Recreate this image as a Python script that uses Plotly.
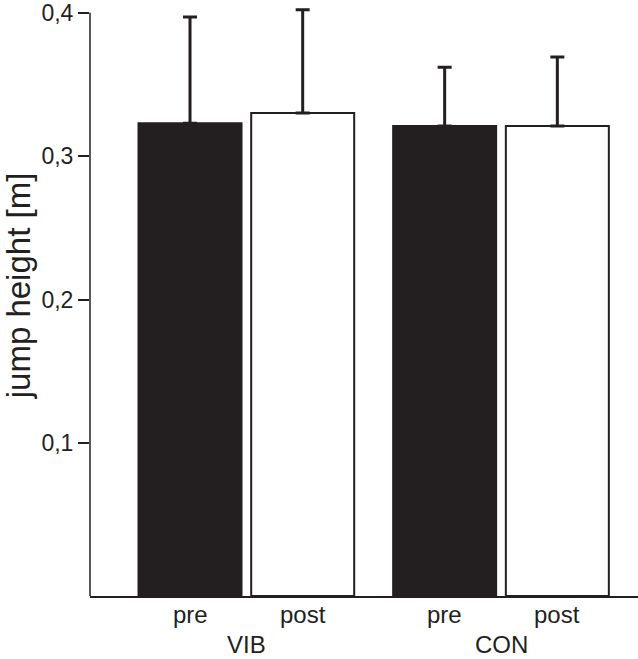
import plotly.graph_objects as go

# ---- data ----
groups = ["VIB", "CON"]
phases = ["pre", "post"]
pre_mean = [0.323, 0.321]
pre_sd = [0.074, 0.041]
post_mean = [0.330, 0.321]
post_sd = [0.072, 0.048]
y_ticks = [0.1, 0.2, 0.3, 0.4]
y_title = "jump height [m]"

# ---- style ----
INK = "#231f20"
FONT = "Liberation Sans, Arial, sans-serif"
Y_MIN, Y_MAX = -0.0065, 0.4088
BARGAP, GROUPGAP = 0.115, 0.086

means = [pre_mean, post_mean]
sds = [pre_sd, post_sd]
fills = [INK, "white"]

fig = go.Figure()
for k, ph in enumerate(phases):
    fig.add_trace(go.Bar(
        name=ph,
        x=groups,
        y=[m - Y_MIN for m in means[k]],
        base=Y_MIN,
        cliponaxis=False,
        marker=dict(color=fills[k], line=dict(color=INK, width=2)),
        error_y=dict(type="data", symmetric=False, array=sds[k],
                     arrayminus=[0] * len(groups),
                     color=INK, thickness=3, width=7),
        showlegend=False,
    ))

annotations = []
off = (1 - BARGAP) / 4
for i, g in enumerate(groups):
    for k, ph in enumerate(phases):
        annotations.append(dict(
            x=i + (k - 0.5) * 2 * off, y=0, xref="x", yref="paper",
            text=ph, showarrow=False, yanchor="top", yshift=-3,
            font=dict(size=24, color=INK, family=FONT)))
    annotations.append(dict(
        x=i, y=0, xref="x", yref="paper", text=g, showarrow=False,
        yanchor="top", yshift=-33,
        font=dict(size=24, color=INK, family=FONT)))

annotations.append(dict(
    x=-0.131, y=0.52, xref="paper", yref="paper", text=y_title,
    textangle=-90, showarrow=False, xanchor="center", yanchor="middle",
    font=dict(size=33, color=INK, family=FONT)))

# y-axis spine ending at the top tick
shapes = [dict(type="line", xref="paper", yref="y", x0=0, x1=0,
               y0=Y_MIN, y1=max(y_ticks),
               line=dict(color=INK, width=1.5))]

fig.update_layout(
    width=638, height=659,
    margin=dict(l=90, r=0, t=0, b=63),
    paper_bgcolor="white", plot_bgcolor="white",
    barmode="group", bargap=BARGAP, bargroupgap=GROUPGAP,
    separators=",.",
    font=dict(family=FONT, color=INK, size=24),
    annotations=annotations,
    shapes=shapes,
    xaxis=dict(type="category", range=[-0.614, 1.538],
               showticklabels=False, ticks="", showgrid=False,
               zeroline=False, showline=True, linecolor=INK, linewidth=1.5),
    yaxis=dict(range=[Y_MIN, Y_MAX], tickvals=y_ticks, tickformat=".1f",
               ticks="outside", ticklen=11, tickwidth=1.5, tickcolor=INK,
               ticklabeloverflow="allow",
               showgrid=False, zeroline=False, showline=False,
               tickfont=dict(size=23, color=INK, family=FONT)),
)

fig.write_html("out.html",
               config={"displayModeBar": False},
               post_script="document.body.style.margin='0';"
                           "document.body.style.overflow='hidden';")
